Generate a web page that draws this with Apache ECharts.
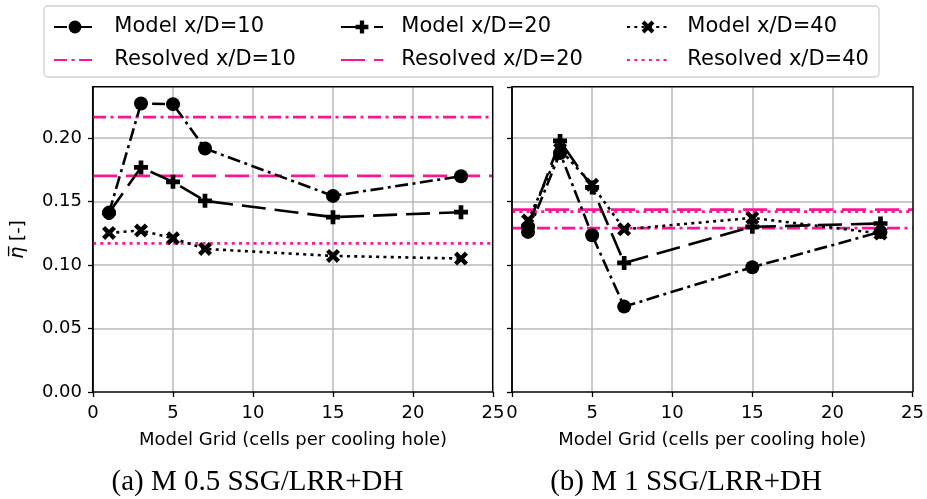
<!DOCTYPE html>
<html>
<head>
<meta charset="utf-8">
<script src="https://cdn.jsdelivr.net/npm/echarts@6/dist/echarts.min.js"></script>
<style>
html,body{margin:0;padding:0;background:#fff;}
#chart{width:927px;height:499px;}
</style>
</head>
<body>
<div id="chart"></div>
<script>
// ---- data ----
const gridX = [1, 3, 5, 7, 15, 23];
const seriesNames = ['Model x/D=10', 'Model x/D=20', 'Model x/D=40'];
const resolvedNames = ['Resolved x/D=10', 'Resolved x/D=20', 'Resolved x/D=40'];
const leftModel10 = [0.141, 0.227, 0.2265, 0.1916, 0.1543, 0.1698];
const leftModel20 = [0.141, 0.1767, 0.1654, 0.1504, 0.1376, 0.1415];
const leftModel40 = [0.1252, 0.1271, 0.121, 0.1126, 0.1071, 0.105];
const leftResolved = [0.2163, 0.170, 0.117];
const rightModel10 = [0.126, 0.188, 0.1234, 0.0672, 0.0982, 0.126];
const rightModel20 = [0.130, 0.1976, 0.161, 0.1016, 0.130, 0.1326];
const rightModel40 = [0.135, 0.191, 0.163, 0.128, 0.137, 0.1247];
const rightResolved = [0.129, 0.1435, 0.142];
const xTicks = [0, 5, 10, 15, 20, 25];
const yTicks = [0, 0.05, 0.10, 0.15, 0.20];
const captions = ['(a) M 0.5 SSG/LRR+DH', '(b) M 1 SSG/LRR+DH'];
const xTitle = 'Model Grid (cells per cooling hole)';

// ---- styles ----
const FONT = 'DejaVu Sans';
const PINK = '#ff1493';
const DASHDOT = [13, 4.5, 3, 4.5];
const DASHED = [24, 9];
const DOTTED = [3, 4.3];
const modelDash = [DASHDOT, DASHED, DOTTED];
const PLUS = 'path://M4,0H8V4H12V8H8V12H4V8H0V4H4Z';
const XMARK = 'path://M0,2.7L2.7,0L6,3.3L9.3,0L12,2.7L8.7,6L12,9.3L9.3,12L6,8.7L2.7,12L0,9.3L3.3,6Z';
const modelSymbols = ['circle', PLUS, XMARK];
const modelSizes = [14, 14, 14];
const modelZ = [5, 4, 3];

function pairs(xs, ys) { return xs.map((x, i) => [x, ys[i]]); }

function xAxis(gridIndex) {
  return {
    type: 'value', gridIndex, min: xTicks[0], max: xTicks[xTicks.length - 1], interval: 5,
    name: xTitle, nameLocation: 'middle', nameGap: 48,
    nameTextStyle: { fontFamily: FONT, fontSize: 18, color: '#000', verticalAlign: 'middle' },
    axisLine: { show: true, onZero: false, lineStyle: { color: '#000', width: 1.5 } },
    axisTick: { show: true, inside: false, length: 5, lineStyle: { color: '#000', width: 1.3 } },
    axisLabel: { fontFamily: FONT, fontSize: 18, color: '#000', margin: 12 },
    splitLine: { show: true, showMinLine: false, showMaxLine: false, lineStyle: { color: '#b8b8b8', width: 1.5 } }
  };
}
function yAxis(gridIndex, showLabels) {
  return {
    type: 'value', gridIndex, min: 0, max: 0.24, interval: 0.05,
    name: showLabels ? '{i|η̅}{n| [-]}' : '', nameLocation: 'middle', nameGap: 75, nameRotate: 90,
    nameTextStyle: { fontFamily: FONT, fontSize: 18, color: '#000', verticalAlign: 'middle',
      rich: { i: { fontFamily: FONT, fontSize: 19, fontStyle: 'italic', color: '#000' },
              n: { fontFamily: FONT, fontSize: 18, color: '#000' } } },
    axisLine: { show: true, onZero: false, lineStyle: { color: '#000', width: 1.5 } },
    axisTick: { show: true, inside: false, length: 5, lineStyle: { color: '#000', width: 1.3 } },
    axisLabel: { show: showLabels, fontFamily: FONT, fontSize: 18, color: '#000', margin: 11,
      showMaxLabel: false, formatter: v => v.toFixed(2) },
    splitLine: { show: true, showMinLine: false, showMaxLine: false, lineStyle: { color: '#b8b8b8', width: 1.5 } }
  };
}

const series = [];
[[leftModel10, leftModel20, leftModel40, leftResolved], [rightModel10, rightModel20, rightModel40, rightResolved]]
  .forEach((set, gi) => {
    resolvedNames.forEach((nm, k) => {
      series.push({
        name: nm, type: 'line', xAxisIndex: gi, yAxisIndex: gi, z: 2,
        data: [[xTicks[0], set[3][k]], [xTicks[xTicks.length - 1], set[3][k]]],
        symbol: 'none', silent: true, animation: false,
        lineStyle: { color: PINK, width: 2.7, type: modelDash[k] },
        itemStyle: { color: PINK }
      });
    });
    seriesNames.forEach((nm, k) => {
      series.push({
        name: nm, type: 'line', xAxisIndex: gi, yAxisIndex: gi, z: modelZ[k],
        data: pairs(gridX, set[k]),
        symbol: modelSymbols[k], symbolSize: modelSizes[k], symbolKeepAspect: true,
        animation: false,
        lineStyle: { color: '#000', width: 2.6, type: modelDash[k] },
        itemStyle: { color: '#000' }
      });
    });
  });

const LEG_TEXT = { fontFamily: FONT, fontSize: 21, color: '#000', lineHeight: 26 };
function legend(k, left) {
  return {
    orient: 'vertical', left, top: 14, padding: 0,
    data: [
      { name: seriesNames[k], textStyle: LEG_TEXT },
      { name: resolvedNames[k], textStyle: LEG_TEXT, itemStyle: { opacity: 0 } }
    ],
    itemWidth: 42, itemHeight: 16, itemGap: 7,
    selectedMode: false,
    formatter: n => '  ' + n,
    textStyle: LEG_TEXT
  };
}

const option = {
  backgroundColor: '#fff',
  animation: false,
  grid: [
    { left: 93, top: 87, width: 400, height: 305, containLabel: false },
    { left: 512, top: 87, width: 401, height: 305, containLabel: false }
  ],
  xAxis: [xAxis(0), xAxis(1)],
  yAxis: [yAxis(0, true), yAxis(1, false)],
  legend: [legend(0, 53), legend(1, 340), legend(2, 626)],
  graphic: [
    { type: 'rect', z: -1, shape: { x: 44, y: 6, width: 835, height: 71, r: 4 },
      style: { fill: '#fff', stroke: '#d0d0d0', lineWidth: 1.3 } },
    { type: 'polyline', z: 10, shape: { points: [[92.7, 392], [92.7, 86.7], [492.7, 86.7], [492.7, 392]] },
      style: { stroke: '#000', lineWidth: 1.5, fill: null } },
    { type: 'polyline', z: 10, shape: { points: [[512, 392], [512, 86.7], [913, 86.7], [913, 392]] },
      style: { stroke: '#000', lineWidth: 1.5, fill: null } },
    { type: 'text', x: 257.5, y: 482, style: { text: captions[0], font: '29px "Liberation Serif"', fill: '#000', textAlign: 'center', textVerticalAlign: 'middle' } },
    { type: 'text', x: 686, y: 482, style: { text: captions[1], font: '29px "Liberation Serif"', fill: '#000', textAlign: 'center', textVerticalAlign: 'middle' } }
  ],
  series
};

const chart = echarts.init(document.getElementById('chart'), null, { renderer: 'canvas' });
chart.setOption(option);
</script>
</body>
</html>
